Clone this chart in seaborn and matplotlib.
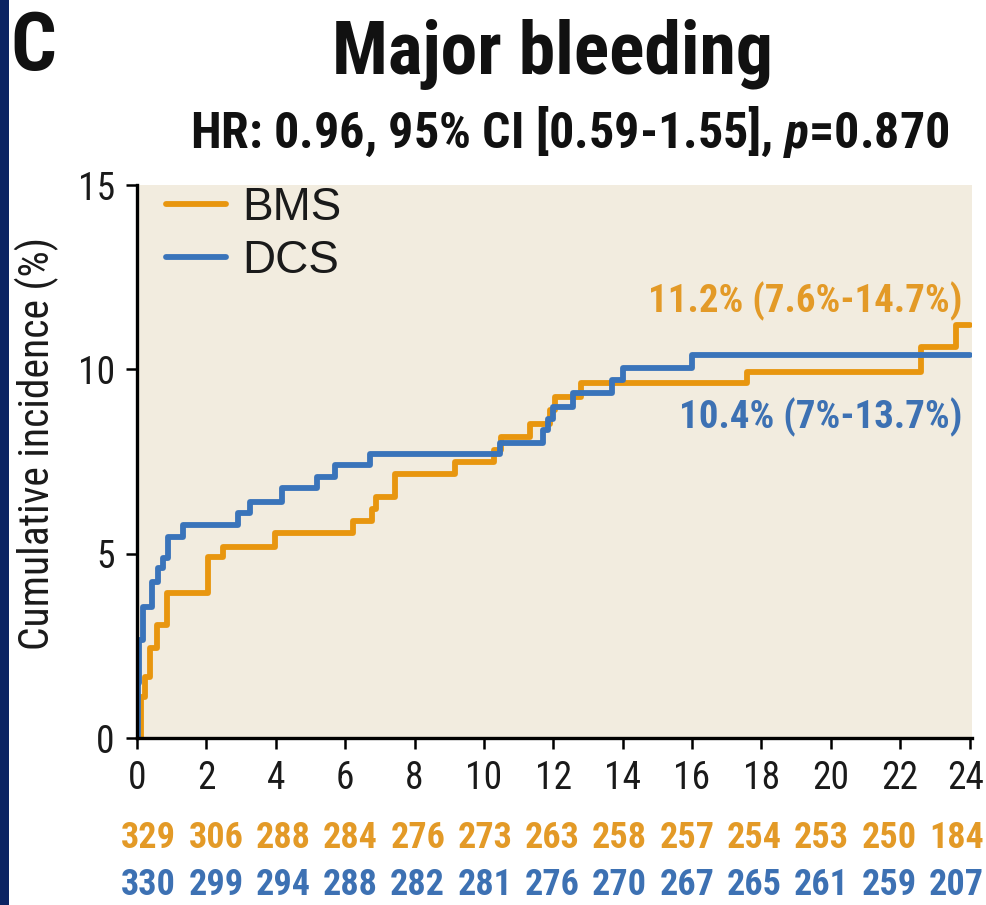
import numpy as np
import pandas as pd
import matplotlib
matplotlib.use("Agg")
import matplotlib.pyplot as plt
import matplotlib.transforms as mtransforms
from matplotlib.patches import Rectangle
import seaborn as sns

# ---------------- data ----------------
groups = ["BMS", "DCS"]
bms_time = [0, 0.12, 0.23, 0.37, 0.57, 0.87, 2.05, 2.48, 3.98, 6.23, 6.76, 6.9, 7.43,
            9.16, 10.3, 10.5, 11.33, 11.9, 12.05, 12.8, 17.57, 22.6, 23.6, 24.0]
bms_inc = [0, 1.1, 1.66, 2.44, 3.06, 3.94, 4.92, 5.19, 5.56, 5.89, 6.2, 6.55, 7.16,
           7.49, 7.8, 8.17, 8.53, 8.9, 9.26, 9.62, 9.94, 10.6, 11.2, 11.2]
dcs_time = [0, 0.02, 0.05, 0.17, 0.42, 0.6, 0.75, 0.89, 1.33, 2.9, 3.25, 4.17, 5.2,
            5.7, 6.71, 10.46, 11.7, 11.85, 12.0, 12.57, 13.7, 14.0, 16.0, 24.0]
dcs_inc = [0, 1.5, 2.66, 3.56, 4.24, 4.6, 4.88, 5.46, 5.78, 6.1, 6.41, 6.77, 7.09,
           7.4, 7.7, 8.01, 8.35, 8.65, 8.99, 9.37, 9.71, 10.03, 10.4, 10.4]
x_ticks = list(range(0, 25, 2))
y_ticks = [0, 5, 10, 15]
risk_bms = [329, 306, 288, 284, 276, 273, 263, 258, 257, 254, 253, 250, 184]
risk_dcs = [330, 299, 294, 288, 282, 281, 276, 270, 267, 265, 261, 259, 207]
title = "Major bleeding"
subtitle = r"HR: 0.96, 95% CI [0.59-1.55], $p$=0.870"
panel = "C"
ylabel = "Cumulative incidence (%)"
final_bms = "11.2% (7.6%-14.7%)"
final_dcs = "10.4% (7%-13.7%)"

ORANGE = "#E8960F"
BLUE = "#3A74BA"
ORANGE_TXT = "#E39A27"
BLUE_TXT = "#3D71B3"
BG = "#F2ECDF"

df = pd.concat([
    pd.DataFrame({"t": bms_time, "v": bms_inc, "g": "BMS"}),
    pd.DataFrame({"t": dcs_time, "v": dcs_inc, "g": "DCS"}),
], ignore_index=True)

# ---------------- style ----------------
sns.set_style("ticks")
COND = ["Roboto Condensed", "DejaVu Sans"]
plt.rcParams["font.family"] = COND
plt.rcParams["mathtext.fontset"] = "custom"
plt.rcParams["mathtext.it"] = "Roboto Condensed:italic:bold"
plt.rcParams["mathtext.rm"] = "Roboto Condensed:bold"

fig = plt.figure(figsize=(9.86, 9.05), dpi=100)
fig.patch.set_facecolor("white")
ax = fig.add_axes([137 / 986, (905 - 738) / 905, (972 - 137) / 986, 553 / 905])
ax.set_facecolor(BG)

sns.lineplot(data=df, x="t", y="v", hue="g", palette={"BMS": ORANGE, "DCS": BLUE},
             drawstyle="steps-post", estimator=None, sort=False, linewidth=4.2,
             ax=ax, legend=True)

ax.set_xlim(0, 24.07)
ax.set_ylim(0, 15)
ax.set_xticks(x_ticks)
ax.set_yticks(y_ticks)
ax.set_xlabel("")
ax.set_ylabel(ylabel, fontsize=30, color="#1a1a1a")
ax.yaxis.set_label_coords(-0.094, 0.532)
for s in ["top", "right"]:
    ax.spines[s].set_visible(False)
for s in ["left", "bottom"]:
    ax.spines[s].set_linewidth(2.4)
    ax.spines[s].set_color("black")
ax.tick_params(axis="both", direction="out", length=8, width=1.8, color="black",
               labelsize=27, labelcolor="#1a1a1a")
ax.tick_params(axis="x", pad=8)
ax.tick_params(axis="y", pad=8)

# keep the last x tick label inside the figure
fig.canvas.draw()
last_lbl = ax.get_xticklabels()[-1]
last_lbl.set_transform(last_lbl.get_transform() +
                       mtransforms.ScaledTranslation(-4 / 100, 0, fig.dpi_scale_trans))

# legend
leg = ax.legend(handles=ax.get_legend_handles_labels()[0],
                labels=groups, loc="upper left", frameon=False,
                handlelength=1.3, handletextpad=0.35,
                labelspacing=0.2, borderaxespad=0.0,
                bbox_to_anchor=(0.013, 1.031),
                prop={"family": "Liberation Sans", "size": 33})
for line in leg.get_lines():
    line.set_linewidth(4.2)
for t in leg.get_texts():
    t.set_color("#1a1a1a")

# final annotations
ax.text(23.78, 11.55, final_bms, color=ORANGE_TXT, fontsize=28, fontweight="bold",
        ha="right", va="baseline")
ax.text(23.78, 8.41, final_dcs, color=BLUE_TXT, fontsize=28, fontweight="bold",
        ha="right", va="baseline")

# risk table
risk_x = np.linspace(0.0138, 0.981, len(x_ticks))
for xa, nb, nd in zip(risk_x, risk_bms, risk_dcs):
    ax.text(xa, -0.199, str(nb), transform=ax.transAxes, color=ORANGE_TXT,
            fontsize=26, fontweight="bold", ha="center", va="baseline")
    ax.text(xa, -0.284, str(nd), transform=ax.transAxes, color=BLUE_TXT,
            fontsize=26, fontweight="bold", ha="center", va="baseline")

# titles
fig.text(10 / 986, (905 - 70) / 905, panel, fontsize=58, fontweight="bold",
         ha="left", va="baseline", color="#111111")
fig.text(552 / 986, (905 - 74) / 905, title, fontsize=53, fontweight="bold",
         ha="center", va="baseline", color="#111111")
fig.text(570 / 986, (905 - 148) / 905, subtitle, fontsize=36, fontweight="bold",
         ha="center", va="baseline", color="#111111")

# left navy strip
fig.patches.append(Rectangle((0, 0), 9 / 986, 1, transform=fig.transFigure,
                             facecolor="#0B2463", edgecolor="none", zorder=0))

fig.savefig("out.png", dpi=100)
